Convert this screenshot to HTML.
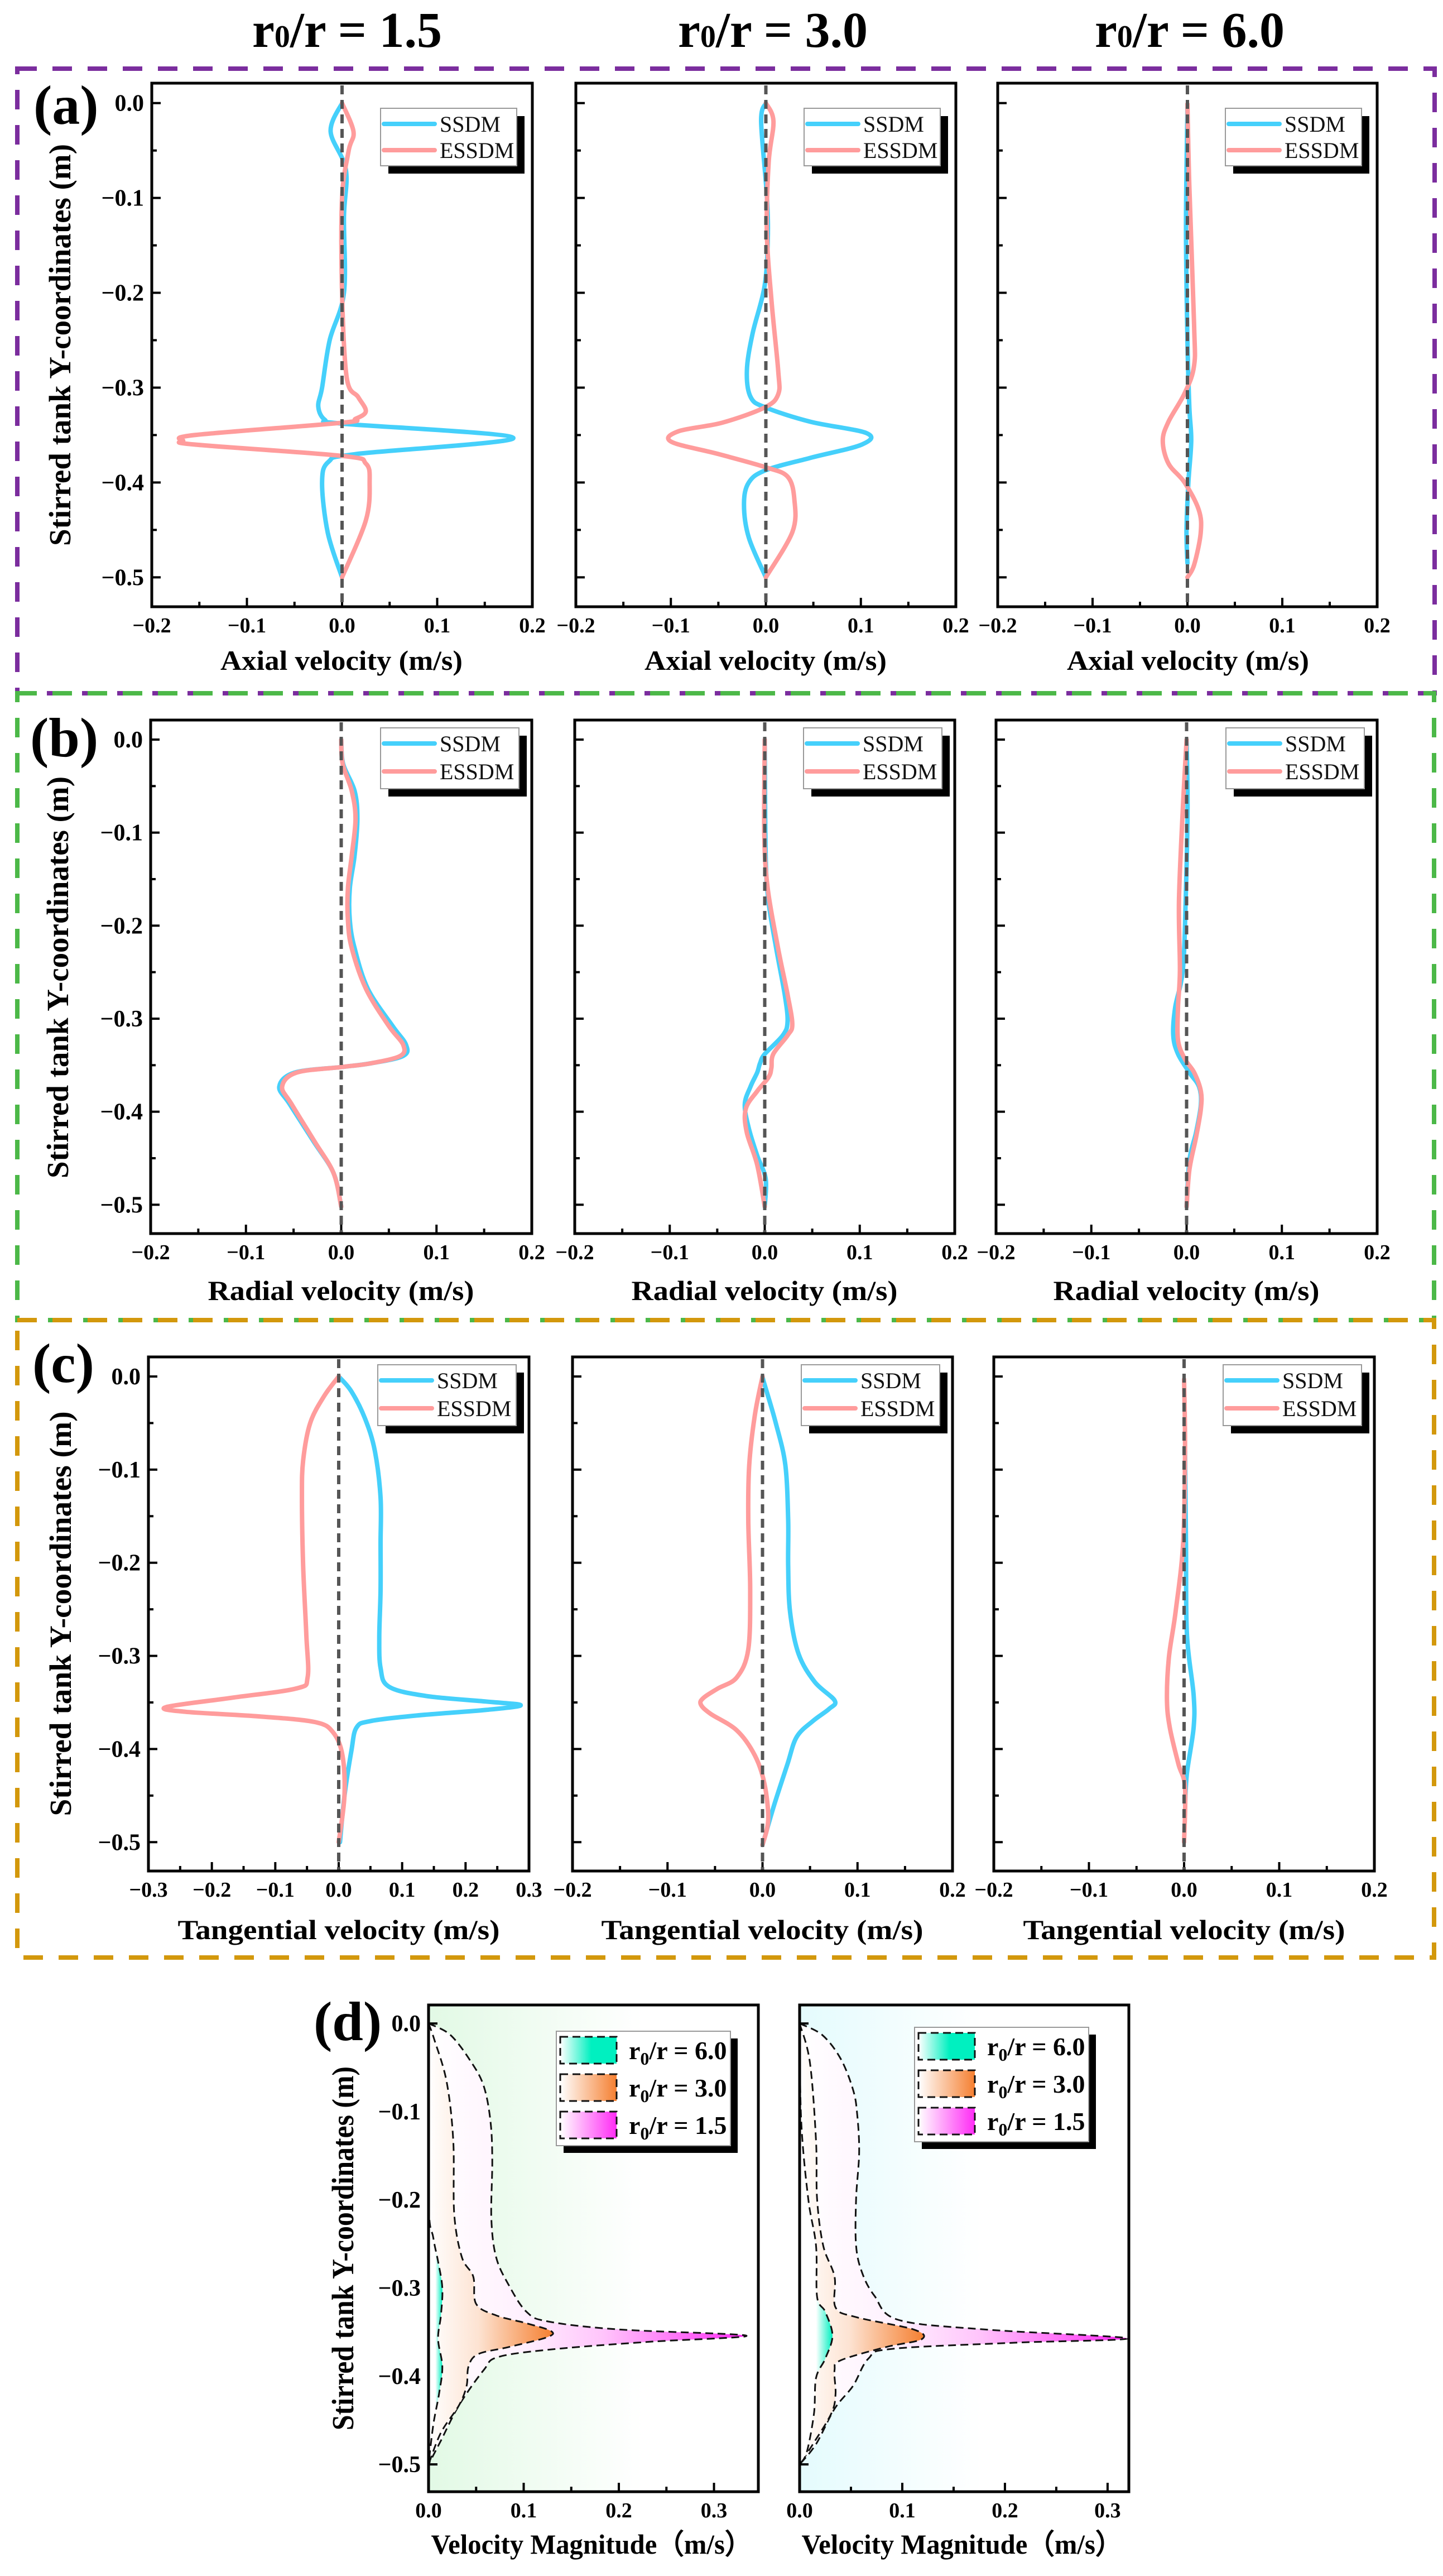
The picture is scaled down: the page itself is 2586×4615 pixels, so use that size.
<!DOCTYPE html>
<html><head><meta charset="utf-8"><title>Velocity profiles</title>
<style>html,body{margin:0;padding:0;background:#fff}svg{display:block}
text{font-family:"Liberation Serif",serif}</style></head>
<body>
<svg id="fig" xmlns="http://www.w3.org/2000/svg" width="2586" height="4615" viewBox="0 0 2586 4615">
<defs>
<linearGradient id="bgG" x1="0" x2="1" y1="0" y2="0"><stop offset="0" stop-color="#e2f9e5"/><stop offset="0.65" stop-color="#ffffff"/></linearGradient>
<linearGradient id="bgC" x1="0" x2="1" y1="0" y2="0"><stop offset="0" stop-color="#e4fbfd"/><stop offset="0.55" stop-color="#ffffff"/></linearGradient>
<linearGradient id="gM" x1="0" x2="1" y1="0" y2="0"><stop offset="0" stop-color="#ffffff"/><stop offset="0.3" stop-color="#fff0fe"/><stop offset="0.55" stop-color="#ffc4fb"/><stop offset="1" stop-color="#ff2cf5"/></linearGradient>
<linearGradient id="gO" x1="0" x2="1" y1="0" y2="0"><stop offset="0" stop-color="#ffffff"/><stop offset="0.4" stop-color="#fde3d2"/><stop offset="1" stop-color="#f57f30"/></linearGradient>
<linearGradient id="gMs" x1="0" x2="1" y1="0" y2="0"><stop offset="0" stop-color="#ffffff"/><stop offset="1" stop-color="#ff2cf5"/></linearGradient>
<linearGradient id="gOs" x1="0" x2="1" y1="0" y2="0"><stop offset="0" stop-color="#ffffff"/><stop offset="1" stop-color="#f57f30"/></linearGradient>
<linearGradient id="gT" x1="0" x2="1" y1="0" y2="0"><stop offset="0" stop-color="#ffffff"/><stop offset="0.5" stop-color="#ffffff"/><stop offset="1" stop-color="#00f0c0"/></linearGradient>
<linearGradient id="gTs" x1="0" x2="1" y1="0" y2="0"><stop offset="0" stop-color="#ffffff"/><stop offset="0.55" stop-color="#00f0c0"/><stop offset="1" stop-color="#00f0c0"/></linearGradient>
</defs>
<g font-weight="bold" font-size="90" text-anchor="middle">
<text x="622" y="84">r<tspan font-size="56">0</tspan>/r = 1.5</text>
<text x="1385" y="84">r<tspan font-size="56">0</tspan>/r = 3.0</text>
<text x="2132" y="84">r<tspan font-size="56">0</tspan>/r = 6.0</text>
</g>
<rect x="31" y="123" width="2540" height="1119" fill="none" stroke="#7b2d9e" stroke-width="8" stroke-dasharray="35 28"/>
<rect x="31" y="1242" width="2539" height="1123" fill="none" stroke="#4cb848" stroke-width="8" stroke-dasharray="35 28"/>
<rect x="31" y="2365" width="2539" height="1142" fill="none" stroke="#d3980c" stroke-width="8" stroke-dasharray="35 28"/>
<g font-weight="bold" font-size="100">
<text x="60" y="222">(a)</text>
<text x="54" y="1355">(b)</text>
<text x="58" y="2476">(c)</text>
<text x="562" y="3655">(d)</text>
</g>
<g font-weight="bold" font-size="55" text-anchor="middle">
<text transform="translate(126,618) rotate(-90)" textLength="720" lengthAdjust="spacingAndGlyphs">Stirred tank Y-coordinates (m)</text>
<text transform="translate(122,1751) rotate(-90)" textLength="720" lengthAdjust="spacingAndGlyphs">Stirred tank Y-coordinates (m)</text>
<text transform="translate(127,2891) rotate(-90)" textLength="725" lengthAdjust="spacingAndGlyphs">Stirred tank Y-coordinates (m)</text>
<text transform="translate(633,4028) rotate(-90)" textLength="652" lengthAdjust="spacingAndGlyphs">Stirred tank Y-coordinates (m)</text>
</g>
<g font-weight="bold" font-size="50" text-anchor="middle">
<text x="612" y="1200" textLength="434" lengthAdjust="spacingAndGlyphs">Axial velocity (m/s)</text>
<text x="1372" y="1200" textLength="434" lengthAdjust="spacingAndGlyphs">Axial velocity (m/s)</text>
<text x="2129" y="1200" textLength="434" lengthAdjust="spacingAndGlyphs">Axial velocity (m/s)</text>
<text x="611" y="2329" textLength="477" lengthAdjust="spacingAndGlyphs">Radial velocity (m/s)</text>
<text x="1370" y="2329" textLength="477" lengthAdjust="spacingAndGlyphs">Radial velocity (m/s)</text>
<text x="2126" y="2329" textLength="477" lengthAdjust="spacingAndGlyphs">Radial velocity (m/s)</text>
<text x="607" y="3474" textLength="577" lengthAdjust="spacingAndGlyphs">Tangential velocity (m/s)</text>
<text x="1366" y="3474" textLength="577" lengthAdjust="spacingAndGlyphs">Tangential velocity (m/s)</text>
<text x="2122" y="3474" textLength="577" lengthAdjust="spacingAndGlyphs">Tangential velocity (m/s)</text>
<text x="1060" y="4575" textLength="575" lengthAdjust="spacingAndGlyphs">Velocity Magnitude（m/s）</text>
<text x="1724" y="4575" textLength="575" lengthAdjust="spacingAndGlyphs">Velocity Magnitude（m/s）</text>
</g>
<g id="plots"></g>
</svg>
<script>
// ---------- data (velocity, Y-coordinate) ----------
const axial15_SSDM = [[0,0],[-0.012,-0.03],[0.004,-0.07],[0.002,-0.12],[0.002,-0.2],[-0.013,-0.25],[-0.021,-0.3],[-0.025,-0.32],[-0.018,-0.334],[0.0,-0.338],[0.18,-0.353],[0.015,-0.37],[-0.014,-0.378],[-0.021,-0.4],[-0.015,-0.453],[0,-0.5]];
const axial15_ESSDM = [[0,0],[0.012,-0.03],[0.007,-0.05],[0,-0.1],[0,-0.2],[0.005,-0.29],[0.017,-0.31],[0.025,-0.325],[0.014,-0.333],[0,-0.337],[-0.155,-0.35],[-0.167,-0.356],[-0.155,-0.36],[0,-0.372],[0.025,-0.38],[0.029,-0.4],[0.025,-0.44],[0,-0.5]];
const axial30_SSDM = [[0,0],[-0.005,-0.019],[0.001,-0.097],[0.002,-0.145],[-0.0015,-0.194],[-0.014,-0.243],[-0.02,-0.282],[-0.016,-0.31],[0,-0.321],[0.047,-0.336],[0.106,-0.348],[0.101,-0.36],[0.047,-0.374],[0,-0.387],[-0.018,-0.4],[-0.023,-0.423],[-0.018,-0.458],[0,-0.5]];
const axial30_ESSDM = [[0,0],[0.008,-0.019],[0.003,-0.062],[0.001,-0.136],[0.006,-0.209],[0.013,-0.282],[0.013,-0.307],[-0.0015,-0.321],[-0.046,-0.337],[-0.092,-0.346],[-0.0997,-0.357],[-0.05,-0.37],[0,-0.384],[0.023,-0.394],[0.03,-0.418],[0.028,-0.452],[0,-0.5]];
const axial60_SSDM = [[0,-0.004],[-0.0015,-0.13],[0,-0.25],[0.002,-0.32],[0.004,-0.356],[0.001,-0.4],[-0.001,-0.45],[0,-0.485]];
const axial60_ESSDM = [[0,-0.001],[0.002,-0.087],[0.007,-0.233],[0.007,-0.277],[-0.003,-0.306],[-0.02,-0.336],[-0.026,-0.356],[-0.02,-0.38],[-0.003,-0.4],[0.012,-0.429],[0.014,-0.453],[0.007,-0.487],[0,-0.5]];
const radial15_SSDM = [[0,0],[0.002,-0.026],[0.014,-0.055],[0.017,-0.085],[0.014,-0.125],[0.009,-0.16],[0.009,-0.194],[0.014,-0.224],[0.028,-0.268],[0.054,-0.308],[0.068,-0.328],[0.065,-0.34],[0.031,-0.348],[0,-0.352],[-0.049,-0.358],[-0.065,-0.373],[-0.054,-0.392],[-0.029,-0.432],[-0.008,-0.466],[0,-0.502]];
const radial15_ESSDM = [[0,0],[0.0015,-0.026],[0.011,-0.055],[0.015,-0.085],[0.011,-0.125],[0.007,-0.16],[0.007,-0.194],[0.011,-0.224],[0.026,-0.268],[0.05,-0.308],[0.065,-0.328],[0.062,-0.34],[0.031,-0.348],[0,-0.352],[-0.047,-0.358],[-0.062,-0.373],[-0.052,-0.392],[-0.028,-0.432],[-0.008,-0.466],[0,-0.502]];
const radial30_SSDM = [[0,0],[0.001,-0.125],[0.004,-0.174],[0.012,-0.224],[0.021,-0.274],[0.024,-0.303],[0.019,-0.318],[0,-0.338],[-0.005,-0.348],[-0.008,-0.358],[-0.015,-0.373],[-0.021,-0.392],[-0.017,-0.417],[-0.008,-0.447],[0.001,-0.472],[0,-0.502]];
const radial30_ESSDM = [[0,0],[-0.0005,-0.1],[0.003,-0.159],[0.014,-0.224],[0.024,-0.274],[0.029,-0.306],[0.024,-0.318],[0.009,-0.338],[0.007,-0.353],[0.004,-0.363],[-0.008,-0.378],[-0.02,-0.397],[-0.019,-0.422],[-0.008,-0.457],[0,-0.502]];
const radial60_SSDM = [[0,0],[0.001,-0.075],[-0.001,-0.174],[-0.004,-0.248],[-0.012,-0.288],[-0.014,-0.318],[-0.009,-0.338],[0.003,-0.358],[0.013,-0.373],[0.015,-0.392],[0.01,-0.422],[0.003,-0.452],[0,-0.502]];
const radial60_ESSDM = [[0,0],[-0.004,-0.075],[-0.008,-0.174],[-0.007,-0.248],[-0.009,-0.288],[-0.009,-0.323],[-0.002,-0.343],[0.008,-0.358],[0.015,-0.378],[0.015,-0.397],[0.01,-0.427],[0.003,-0.462],[0,-0.502]];
const tang15_SSDM = [[0,0],[0.02,-0.016],[0.042,-0.046],[0.057,-0.08],[0.066,-0.13],[0.066,-0.179],[0.066,-0.23],[0.064,-0.28],[0.066,-0.313],[0.079,-0.333],[0.137,-0.343],[0.232,-0.349],[0.287,-0.353],[0.232,-0.358],[0.123,-0.364],[0.05,-0.37],[0.028,-0.377],[0.02,-0.402],[0.009,-0.451],[0.002,-0.5]];
const tang15_ESSDM = [[0,0],[-0.023,-0.021],[-0.045,-0.05],[-0.056,-0.09],[-0.058,-0.13],[-0.056,-0.204],[-0.051,-0.278],[-0.049,-0.323],[-0.067,-0.335],[-0.169,-0.345],[-0.272,-0.355],[-0.242,-0.36],[-0.126,-0.365],[-0.038,-0.371],[-0.009,-0.382],[0.006,-0.407],[0.009,-0.451],[0,-0.5]];
const tang30_SSDM = [[0,0],[0.002,-0.008],[0.014,-0.05],[0.024,-0.095],[0.027,-0.154],[0.027,-0.204],[0.029,-0.253],[0.038,-0.298],[0.055,-0.328],[0.076,-0.348],[0.07,-0.357],[0.053,-0.37],[0.036,-0.387],[0.026,-0.417],[0.012,-0.461],[0,-0.503]];
const tang30_ESSDM = [[0,0],[-0.008,-0.041],[-0.014,-0.095],[-0.015,-0.154],[-0.013,-0.228],[-0.015,-0.293],[-0.027,-0.323],[-0.047,-0.335],[-0.062,-0.345],[-0.065,-0.352],[-0.055,-0.362],[-0.027,-0.38],[-0.008,-0.407],[0.002,-0.437],[0.006,-0.476],[0,-0.503]];
const tang60_SSDM = [[0.001,-0.08],[0.002,-0.179],[0.003,-0.277],[0.01,-0.342],[0.01,-0.377],[0.003,-0.426],[0.001,-0.46]];
const tang60_ESSDM = [[0,-0.003],[0.001,-0.08],[-0.001,-0.179],[-0.009,-0.253],[-0.016,-0.302],[-0.018,-0.347],[-0.015,-0.377],[-0.006,-0.416],[0.001,-0.441],[0,-0.5]];
const magA_r15 = [[0,0],[0.023,-0.013],[0.045,-0.044],[0.058,-0.071],[0.065,-0.11],[0.067,-0.155],[0.066,-0.221],[0.071,-0.265],[0.084,-0.296],[0.103,-0.327],[0.126,-0.338],[0.2,-0.347],[0.334,-0.354],[0.232,-0.361],[0.135,-0.369],[0.074,-0.378],[0.058,-0.393],[0.032,-0.433],[0.013,-0.473],[0,-0.5]];
const magA_r30 = [[0,0],[0.006,-0.018],[0.019,-0.066],[0.026,-0.133],[0.027,-0.216],[0.035,-0.265],[0.047,-0.287],[0.05,-0.318],[0.071,-0.331],[0.103,-0.34],[0.129,-0.349],[0.124,-0.356],[0.084,-0.367],[0.052,-0.375],[0.042,-0.389],[0.04,-0.411],[0.032,-0.433],[0.013,-0.464],[0,-0.5]];
const magA_r60 = [[0,0],[0,-0.2],[0.005,-0.243],[0.01,-0.27],[0.0145,-0.3],[0.013,-0.331],[0.01,-0.358],[0.0145,-0.389],[0.011,-0.42],[0.005,-0.455],[0,-0.5]];
const magB_r15 = [[0,0],[0.022,-0.013],[0.04,-0.04],[0.052,-0.075],[0.056,-0.102],[0.058,-0.146],[0.055,-0.199],[0.055,-0.252],[0.061,-0.283],[0.073,-0.309],[0.096,-0.336],[0.18,-0.347],[0.319,-0.357],[0.21,-0.362],[0.09,-0.369],[0.067,-0.38],[0.052,-0.411],[0.034,-0.437],[0.016,-0.477],[0,-0.5]];
const magB_r30 = [[0,0],[0.01,-0.044],[0.016,-0.133],[0.017,-0.199],[0.023,-0.252],[0.034,-0.287],[0.035,-0.322],[0.055,-0.333],[0.111,-0.347],[0.119,-0.358],[0.084,-0.367],[0.04,-0.382],[0.034,-0.393],[0.035,-0.42],[0.031,-0.442],[0.013,-0.477],[0,-0.5]];
const magB_r60 = [[0,0],[0.0015,-0.11],[0.0084,-0.199],[0.016,-0.252],[0.017,-0.31],[0.025,-0.327],[0.032,-0.354],[0.025,-0.38],[0.016,-0.402],[0.014,-0.442],[0.007,-0.486],[0,-0.5]];
// tick labels
const yTickLabels = ['0.0','\u22120.1','\u22120.2','\u22120.3','\u22120.4','\u22120.5'];
const yTickValues = [0,-0.1,-0.2,-0.3,-0.4,-0.5];
const xTicks02 = [-0.2,-0.1,0,0.1,0.2];
const xTicks03 = [-0.3,-0.2,-0.1,0,0.1,0.2,0.3];
const xTicksMag = [0,0.1,0.2,0.3];
const legendNames = ['SSDM','ESSDM'];
const magLegendNames = ['6.0','3.0','1.5'];
const Y_MAX = 0.021, Y_MIN = -0.531;

const NS = 'http://www.w3.org/2000/svg';
const root = document.getElementById('plots');
function mk(tag, attrs, parent){ const e=document.createElementNS(NS,tag); for(const k in attrs) e.setAttribute(k,attrs[k]); (parent||root).appendChild(e); return e; }
function fmt(v){ if(Math.abs(v)<1e-9) return '0.0'; return (v<0?'\u2212':'')+Math.abs(v).toFixed(1); }
function smoothPath(pts){
  let d='M'+pts[0][0].toFixed(1)+','+pts[0][1].toFixed(1);
  for(let i=0;i<pts.length-1;i++){
    const p0=pts[i-1]||pts[i], p1=pts[i], p2=pts[i+1], p3=pts[i+2]||p2;
    const c1=[p1[0]+(p2[0]-p0[0])/6, p1[1]+(p2[1]-p0[1])/6];
    const c2=[p2[0]-(p3[0]-p1[0])/6, p2[1]-(p3[1]-p1[1])/6];
    d+=' C'+c1[0].toFixed(1)+','+c1[1].toFixed(1)+' '+c2[0].toFixed(1)+','+c2[1].toFixed(1)+' '+p2[0].toFixed(1)+','+p2[1].toFixed(1);
  }
  return d;
}

const panels = [
 {id:'a1',L:272,R:954,T:149,B:1087,x0:-0.2,x1:0.2,ticks:xTicks02,ylab:true,s:[axial15_SSDM,axial15_ESSDM],lg:'a'},
 {id:'a2',L:1032,R:1713,T:149,B:1087,x0:-0.2,x1:0.2,ticks:xTicks02,ylab:false,s:[axial30_SSDM,axial30_ESSDM],lg:'a'},
 {id:'a3',L:1788,R:2468,T:149,B:1087,x0:-0.2,x1:0.2,ticks:xTicks02,ylab:false,s:[axial60_SSDM,axial60_ESSDM],lg:'a'},
 {id:'b1',L:270,R:953,T:1290,B:2210,x0:-0.2,x1:0.2,ticks:xTicks02,ylab:true,s:[radial15_SSDM,radial15_ESSDM],lg:'b'},
 {id:'b2',L:1030,R:1711,T:1290,B:2210,x0:-0.2,x1:0.2,ticks:xTicks02,ylab:false,s:[radial30_SSDM,radial30_ESSDM],lg:'b'},
 {id:'b3',L:1785,R:2468,T:1290,B:2210,x0:-0.2,x1:0.2,ticks:xTicks02,ylab:false,s:[radial60_SSDM,radial60_ESSDM],lg:'b'},
 {id:'c1',L:266,R:948,T:2431,B:3352,x0:-0.3,x1:0.3,ticks:xTicks03,ylab:true,s:[tang15_SSDM,tang15_ESSDM],lg:'b'},
 {id:'c2',L:1026,R:1707,T:2431,B:3352,x0:-0.2,x1:0.2,ticks:xTicks02,ylab:false,s:[tang30_SSDM,tang30_ESSDM],lg:'b'},
 {id:'c3',L:1781,R:2463,T:2431,B:3352,x0:-0.2,x1:0.2,ticks:xTicks02,ylab:false,s:[tang60_SSDM,tang60_ESSDM],lg:'b'}
];
const seriesColors = ['#45d0fb','#ff9c9c'];

function axes(p, g){
  const sx=v=>p.L+(v-p.x0)/(p.x1-p.x0)*(p.R-p.L);
  const sy=v=>p.T+(Y_MAX-v)/(Y_MAX-Y_MIN)*(p.B-p.T);
  for(let v=0; v>=-0.5001; v-=0.05){
    const major=Math.abs(Math.round(v*10)-v*10)<1e-6;
    const t=mk('line',{x1:p.L,x2:p.L+(major?16:9),y1:sy(v),y2:sy(v),stroke:'#000','stroke-width':4},g);
    
    
  }
  if(p.ylab){
    yTickValues.forEach((v,i)=>{
      const t=mk('text',{x:p.L-14,y:sy(v)+14,'text-anchor':'end','font-size':42,'font-weight':'bold'},g);
      t.textContent=yTickLabels[i];
      
      
    });
  }
  const step=0.05;
  for(let v=p.x0; v<=p.x1+1e-9; v+=step){
    const major=Math.abs(Math.round(v*10)-v*10)<1e-6;
    const t=mk('line',{x1:sx(v),x2:sx(v),y1:p.B,y2:p.B-(major?16:9),stroke:'#000','stroke-width':4},g);
    
    
  }
  p.ticks.forEach(v=>{
    const t=mk('text',{x:sx(v),y:p.B+46,'text-anchor':'middle','font-size':38,'font-weight':'bold'},g);
    t.textContent=fmt(v);
    
    
  });
  return [sx,sy];
}

panels.forEach(p=>{
  const g=mk('g',{});
  
  
  const [sx,sy]=axes(p,g);
  p.s.forEach((ser,i)=>{
    const pts=ser.map(d=>[sx(d[0]),sy(d[1])]);
    const path=mk('path',{d:smoothPath(pts),fill:'none',stroke:seriesColors[i],'stroke-width':8,'stroke-linejoin':'round','stroke-linecap':'round'},g);
    
    
  });
  const z=mk('line',{x1:sx(0),x2:sx(0),y1:p.T+4,y2:p.B-2,stroke:'#555','stroke-width':6,'stroke-dasharray':'16 10'},g);
  
  
  const fr=mk('rect',{x:p.L,y:p.T,width:p.R-p.L,height:p.B-p.T,fill:'none',stroke:'#000','stroke-width':5},g);
  
  
  const bl=p.R-(p.lg==='a'?272:271), br=p.R-(p.lg==='a'?28:23);
  const bt=p.T+(p.lg==='a'?45:14), bb=bt+(p.lg==='a'?103:109);
  const lg=mk('g',{},g);
  
  
  const sh=mk('rect',{x:bl+14,y:bt+14,width:br-bl,height:bb-bt,fill:'#000'},lg);
  
  
  const bx=mk('rect',{x:bl,y:bt,width:br-bl,height:bb-bt,fill:'#fff',stroke:'#999','stroke-width':2},lg);
  
  
  legendNames.forEach((n,i)=>{
    const yy=bt+28+i*(p.lg==='a'?47:50);
    const ln=mk('line',{x1:bl+6,x2:bl+97,y1:yy,y2:yy,stroke:seriesColors[i],'stroke-width':8,'stroke-linecap':'round'},lg);
    
    
    const tx=mk('text',{x:bl+106,y:yy+14,'font-size':40,fill:'#111'},lg);
    tx.textContent=n;
    
    
  });
});

const magPanels=[
 {id:'d1',L:768,R:1359,T:3592,B:4464,x0:0,x1:0.3466,ylab:true,bg:'url(#bgG)',s:[magA_r15,magA_r30,magA_r60],lgL:997,lgT:3639},
 {id:'d2',L:1433,R:2023,T:3592,B:4464,x0:0,x1:0.3207,ylab:false,bg:'url(#bgC)',s:[magB_r15,magB_r30,magB_r60],lgL:1639,lgT:3632}
];
const magFills=['url(#gM)','url(#gO)','url(#gT)'];
const magSwatch=['url(#gTs)','url(#gOs)','url(#gMs)'];
magPanels.forEach(p=>{
  const g=mk('g',{});
  
  
  const bgr=mk('rect',{x:p.L,y:p.T,width:p.R-p.L,height:p.B-p.T,fill:p.bg},g);
  
  
  p.ticks=xTicksMag;
  const [sx,sy]=axes(p,g);
  p.s.forEach((ser,i)=>{
    const pts=ser.map(d=>[sx(d[0]),sy(d[1])]);
    const d=smoothPath(pts)+' L'+sx(0)+','+sy(ser[ser.length-1][1])+' L'+sx(0)+','+sy(ser[0][1])+' Z';
    const f=mk('path',{d:d,fill:magFills[i],stroke:'none'},g);
    
    
    const o=mk('path',{d:smoothPath(pts),fill:'none',stroke:'#111','stroke-width':3,'stroke-dasharray':'14 8'},g);
    
    
  });
  const fr=mk('rect',{x:p.L,y:p.T,width:p.R-p.L,height:p.B-p.T,fill:'none',stroke:'#000','stroke-width':5},g);
  
  
  const lg=mk('g',{},g);
  
  
  const W=312,H=205;
  const sh=mk('rect',{x:p.lgL+13,y:p.lgT+13,width:W,height:H,fill:'#000'},lg);
  
  
  const bx=mk('rect',{x:p.lgL,y:p.lgT,width:W,height:H,fill:'#fff',stroke:'#999','stroke-width':2},lg);
  
  
  magLegendNames.forEach((n,i)=>{
    const yy=p.lgT+10+i*67;
    const sw=mk('rect',{x:p.lgL+7,y:yy,width:101,height:48,fill:magSwatch[i],stroke:'#111','stroke-width':3,'stroke-dasharray':'14 8'},lg);
    
    
    const tx=mk('text',{x:p.lgL+130,y:yy+40,'font-size':46,'font-weight':'bold'},lg);
    tx.innerHTML='r<tspan font-size="32" dy="10">0</tspan><tspan dy="-10">/r = '+n+'</tspan>';
    
    
  });
});
</script>
</body></html>
